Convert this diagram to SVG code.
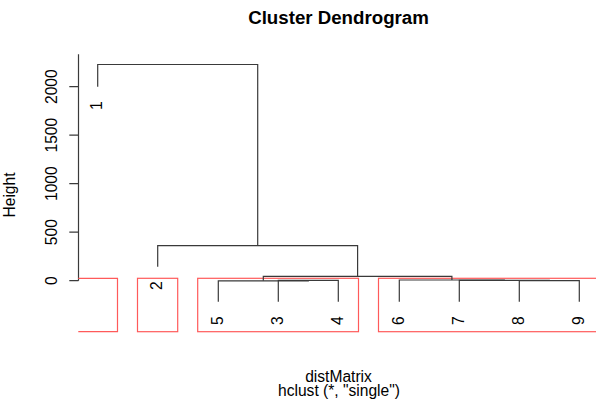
<svg xmlns="http://www.w3.org/2000/svg" width="596" height="405" viewBox="0 0 596 405">
<style>
text{font-family:"Liberation Sans",Arial,sans-serif;fill:#000;}
.lab{font-size:15.6px;text-anchor:middle;}
.title{font-size:18.7px;font-weight:bold;text-anchor:middle;}
.ln{stroke:#3a3a3a;stroke-width:1.2;fill:none;}
.rc{stroke:#ff5a5a;stroke-width:1.2;fill:none;}
</style>
<rect width="596" height="405" fill="#fff"/>
<text class="title" x="338.5" y="24">Cluster Dendrogram</text>
<g id="axis">
<path class="ln" d="M78.5 54.3V280.7M69.3 280.7H78.5M69.3 232.2H78.5M69.3 183.7H78.5M69.3 135.2H78.5M69.3 86.7H78.5"/>
<text class="lab" transform="translate(56.5 280.7) rotate(-90)">0</text>
<text class="lab" transform="translate(56.5 232.2) rotate(-90)">500</text>
<text class="lab" transform="translate(56.5 183.7) rotate(-90)">1000</text>
<text class="lab" transform="translate(56.5 135.2) rotate(-90)">1500</text>
<text class="lab" transform="translate(56.5 86.7) rotate(-90)">2000</text>
<text class="lab" transform="translate(15 195) rotate(-90)">Height</text>
</g>
<g id="rects">
<path class="rc" d="M78.3 278.3H117.5V331.7H78.3"/>
<rect class="rc" x="137.5" y="278.3" width="40.2" height="53.4"/>
<rect class="rc" x="197.7" y="278.3" width="160.8" height="53.4"/>
<rect class="rc" x="378.5" y="278.3" width="221" height="53.4"/>
</g>
<g id="connectors">
<path class="ln" d="M97.7 86.7V64.5H257.7V245.7"/>
<path class="ln" d="M157.7 266.7V245.7H357.6V276.3"/>
<path class="ln" d="M263.3 280.8V276.3H451.9V280.0"/>
<path class="ln" d="M218.3 301.7V280.8H308.3V280.4"/>
<path class="ln" d="M278.3 301.7V280.4H338.3V301.7"/>
<path class="ln" d="M399.3 301.7V280.0H504.3V280.3"/>
<path class="ln" d="M459.3 301.7V280.3H549.3V280.7"/>
<path class="ln" d="M519.3 301.7V280.7H579.3V301.7"/>
</g>
<g id="leaf1"><text class="lab" transform="translate(102.2 105.7) rotate(-90)">1</text></g>
<g id="leaf2"><text class="lab" transform="translate(162.2 285.7) rotate(-90)">2</text></g>
<g id="leaf5"><text class="lab" transform="translate(222.8 320.7) rotate(-90)">5</text></g>
<g id="leaf3"><text class="lab" transform="translate(282.8 320.7) rotate(-90)">3</text></g>
<g id="leaf4"><text class="lab" transform="translate(342.8 320.7) rotate(-90)">4</text></g>
<g id="leaf6"><text class="lab" transform="translate(403.8 320.7) rotate(-90)">6</text></g>
<g id="leaf7"><text class="lab" transform="translate(463.8 320.7) rotate(-90)">7</text></g>
<g id="leaf8"><text class="lab" transform="translate(523.8 320.7) rotate(-90)">8</text></g>
<g id="leaf9"><text class="lab" transform="translate(583.8 320.7) rotate(-90)">9</text></g>
<text class="lab" x="338.5" y="381.7">distMatrix</text>
<text class="lab" x="339" y="395.7">hclust (*, "single")</text>
</svg>
